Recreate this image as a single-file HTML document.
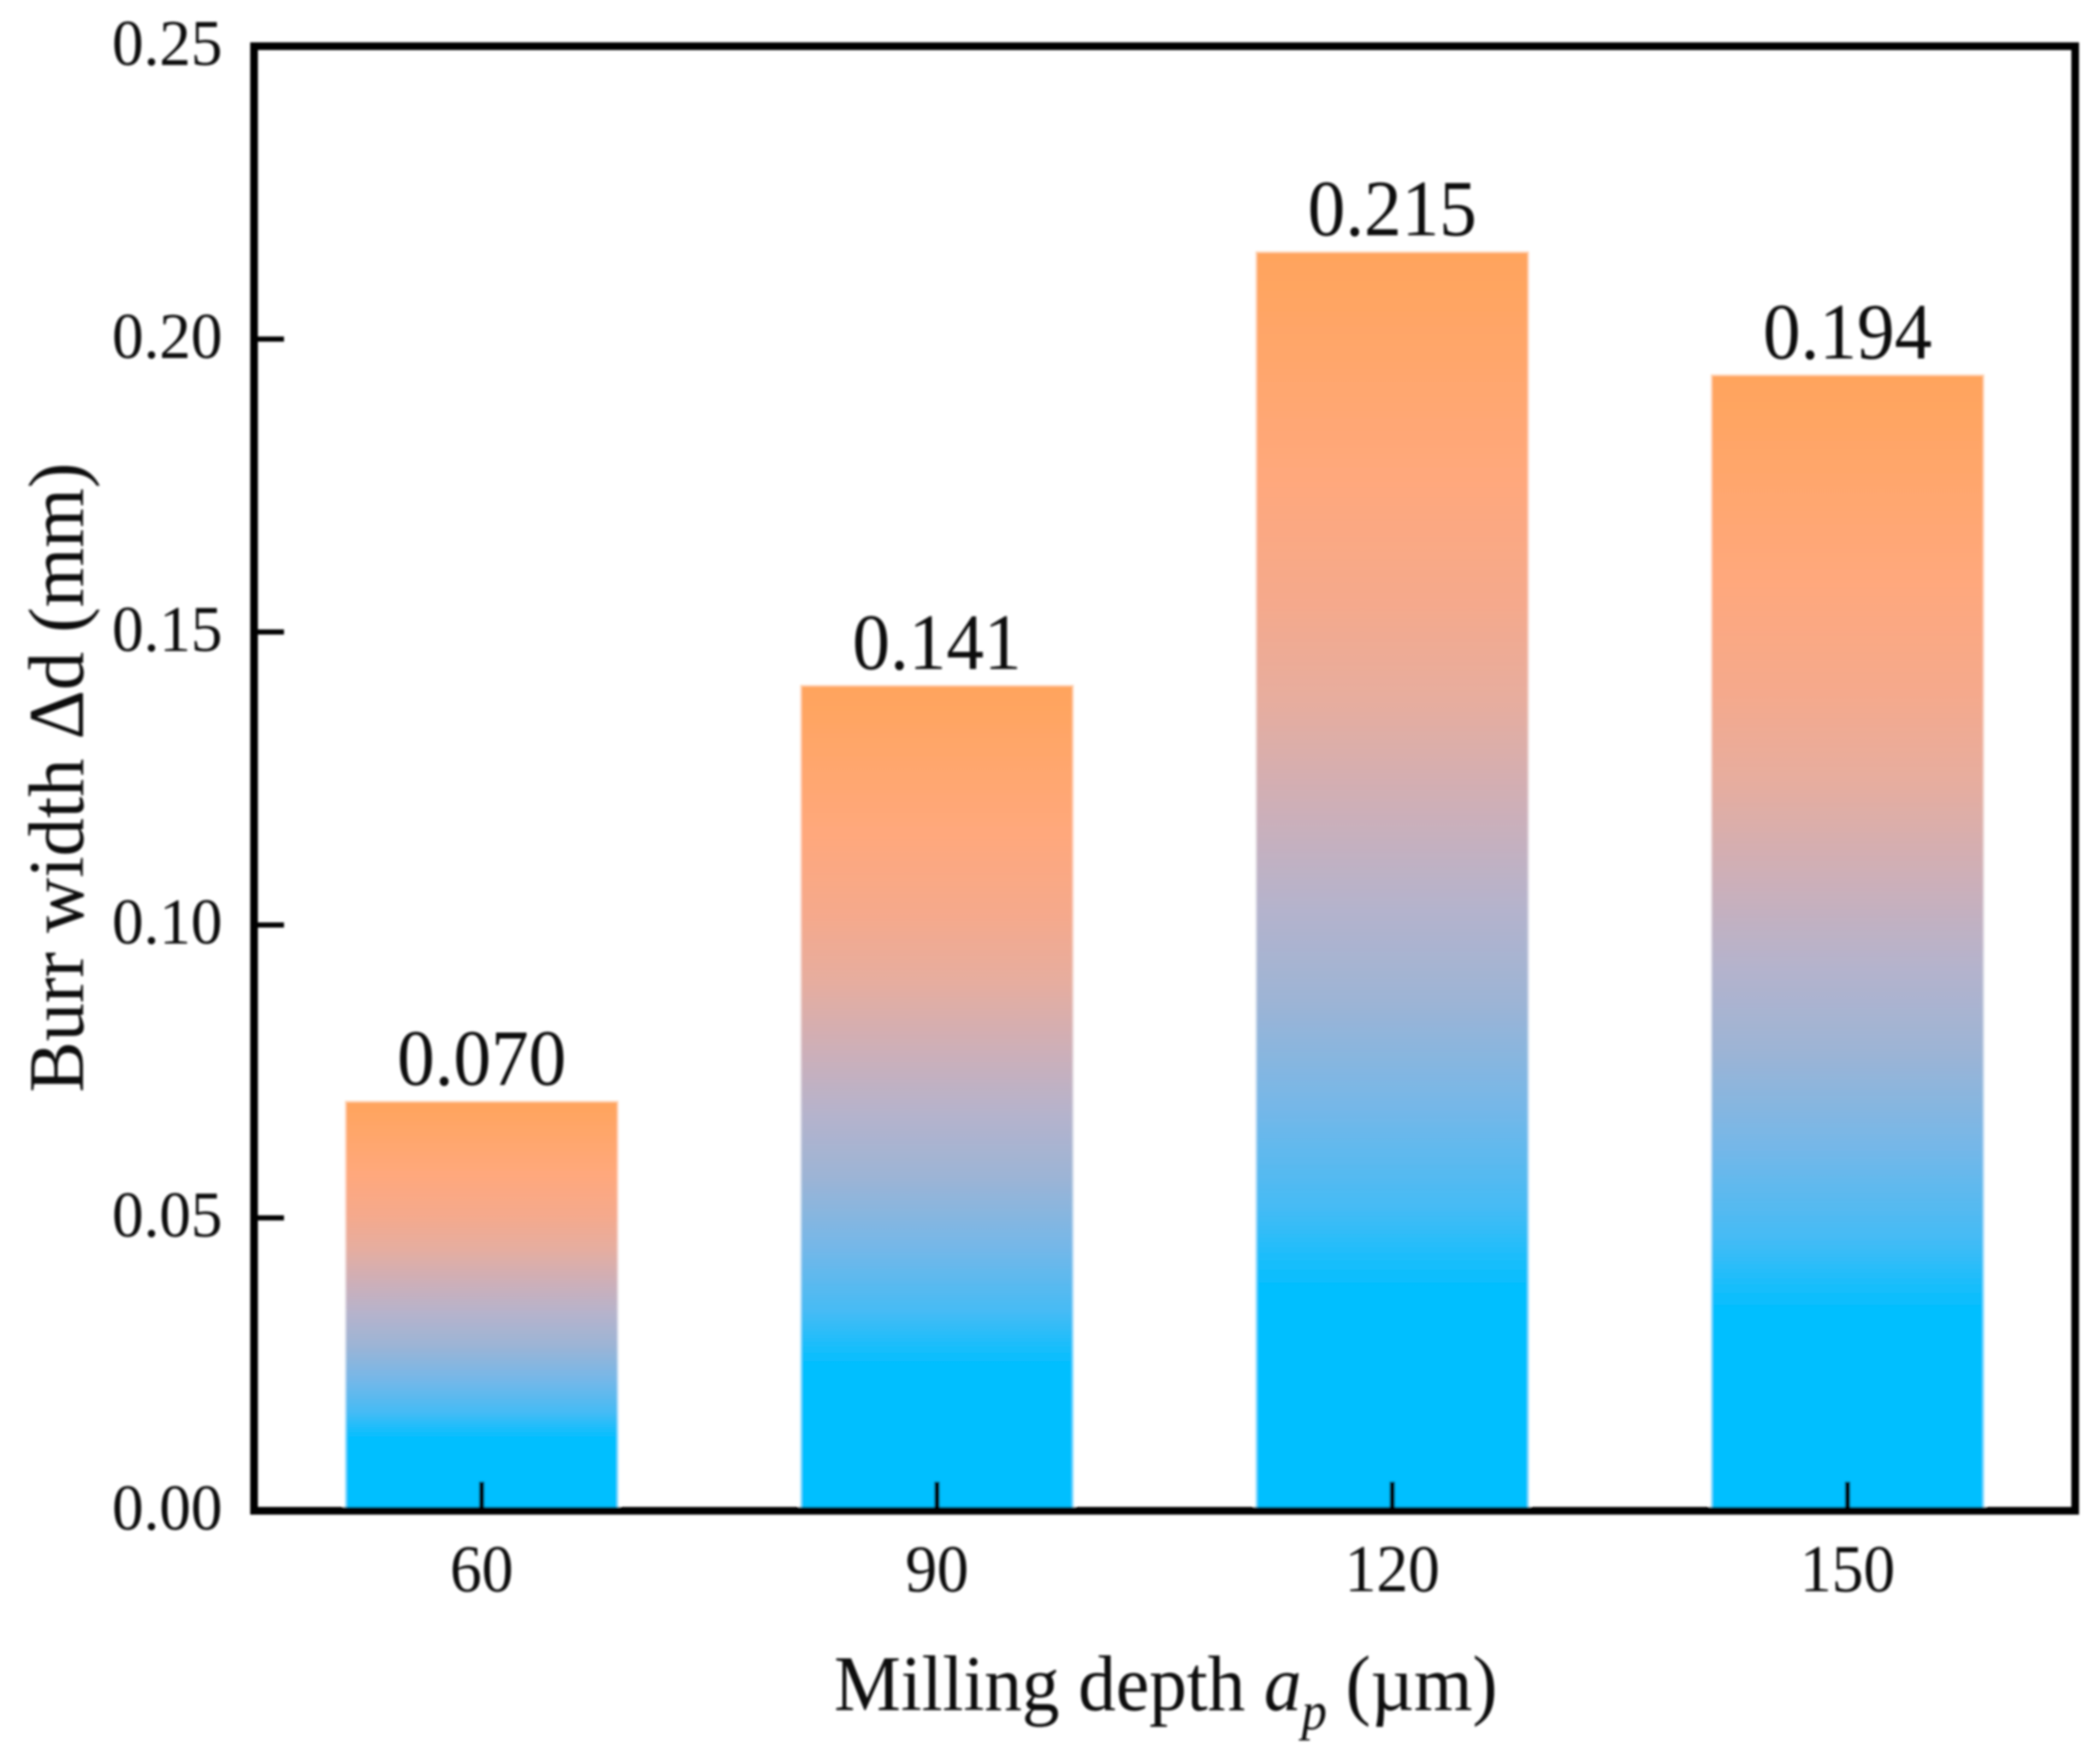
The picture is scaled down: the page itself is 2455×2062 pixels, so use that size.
<!DOCTYPE html>
<html lang="en">
<head>
<meta charset="utf-8">
<title>Burr width vs milling depth</title>
<style>
html,body{margin:0;padding:0;background:#fff;}
body{width:2455px;height:2062px;overflow:hidden;}
svg{display:block;font-family:"Liberation Serif","Times New Roman",serif;fill:#111;}
</style>
</head>
<body>
<svg id="chart" xmlns="http://www.w3.org/2000/svg" width="2455" height="2062" viewBox="0 0 2455 2062">
  <defs>
    <filter id="soft" x="-2%" y="-2%" width="104%" height="104%"><feGaussianBlur stdDeviation="1.2"/></filter>
    <linearGradient id="barGrad" x1="0" y1="0" x2="0" y2="1">
      <stop offset="0" stop-color="#FFA45C"/>
      <stop offset="0.18" stop-color="#FFA87C"/>
      <stop offset="0.28" stop-color="#F5A98C"/>
      <stop offset="0.36" stop-color="#E6AD9F"/>
      <stop offset="0.45" stop-color="#CBAFBA"/>
      <stop offset="0.52" stop-color="#B5B3CC"/>
      <stop offset="0.595" stop-color="#9DB4D5"/>
      <stop offset="0.68" stop-color="#75B7E8"/>
      <stop offset="0.76" stop-color="#45BBF5"/>
      <stop offset="0.825" stop-color="#00BFFF"/>
      <stop offset="1" stop-color="#00BFFF"/>
    </linearGradient>
  </defs>
  <g id="root" filter="url(#soft)"></g>
</svg>
<script>
const categories = ["60", "90", "120", "150"];
const burrWidths = [0.070, 0.141, 0.215, 0.194];
const valueLabels = ["0.070", "0.141", "0.215", "0.194"];
const yTicks = [0, 0.05, 0.10, 0.15, 0.20, 0.25];
const yTickLabels = ["0.00", "0.05", "0.10", "0.15", "0.20", "0.25"];

const NS = "http://www.w3.org/2000/svg";
const root = document.getElementById("root");
const plot = {left: 297, right: 2426, top: 54, bottom: 1766};
const yMax = 0.25;
const barWidth = 320;

function xScale(i) {
  return plot.left + (plot.right - plot.left) * (i + 0.5) / categories.length;
}
function yScale(v) {
  return plot.bottom - (plot.bottom - plot.top) * v / yMax;
}
function make(tag, attrs) {
  const el = document.createElementNS(NS, tag);
  for (const k in attrs) el.setAttribute(k, attrs[k]);
  return el;
}
function makeText(str, x, y, size, sx, anchor) {
  const t = make("text", {
    transform: "translate(" + x + " " + y + ") scale(" + sx + " 1)",
    "font-size": size,
    "text-anchor": anchor
  });
  t.textContent = str;
  return t;
}

burrWidths.forEach(function (v, i) {
  const top = yScale(v);
  const bar = make("rect", {
    x: xScale(i) - barWidth / 2,
    y: top,
    width: barWidth,
    height: plot.bottom - top,
    fill: "url(#barGrad)",
    stroke: "#ffffff",
    "stroke-opacity": "0.55",
    "stroke-width": "4"
  });
  
  
  root.appendChild(bar);

  const label = makeText(valueLabels[i], xScale(i), top - 18.5, 93, 0.945, "middle");
  
  
  root.appendChild(label);
});

const frame = make("rect", {
  x: plot.left,
  y: plot.top,
  width: plot.right - plot.left,
  height: plot.bottom - plot.top,
  fill: "none",
  stroke: "#000",
  "stroke-width": "9"
});


root.appendChild(frame);

yTicks.forEach(function (v, i) {
  const y = yScale(v);
  if (v > 0 && v < yMax) {
    const tick = make("line", {x1: plot.left, x2: plot.left + 35, y1: y, y2: y, stroke: "#000", "stroke-width": "6"});
    
    
    root.appendChild(tick);
  }
  const label = makeText(yTickLabels[i], 260, y + 22, 76, 0.97, "end");
  
  
  root.appendChild(label);
});

categories.forEach(function (c, i) {
  const x = xScale(i);
  const tick = make("line", {x1: x, x2: x, y1: plot.bottom, y2: plot.bottom - 34, stroke: "#000", "stroke-width": "6"});
  
  
  root.appendChild(tick);
  const label = makeText(c, x, 1860, 78, 0.95, "middle");
  
  
  root.appendChild(label);
});
</script>
<script>
(function () {
  const NS2 = "http://www.w3.org/2000/svg";
  const g = document.getElementById("root");

  const xt = document.createElementNS(NS2, "text");
  xt.setAttribute("transform", "translate(975 1999) scale(0.955 1)");
  xt.setAttribute("font-size", "92");
  
  
  xt.innerHTML = 'Milling depth <tspan font-style="italic">a</tspan><tspan font-style="italic" font-size="62" dy="22">p</tspan><tspan dy="-22"> (µm)</tspan>';
  g.appendChild(xt);

  const yt = document.createElementNS(NS2, "text");
  yt.setAttribute("transform", "translate(97 1277) rotate(-90) scale(0.973 1)");
  yt.setAttribute("font-size", "92");
  
  
  yt.textContent = "Burr width Δd (mm)";
  g.appendChild(yt);
})();
</script>
</body>
</html>
